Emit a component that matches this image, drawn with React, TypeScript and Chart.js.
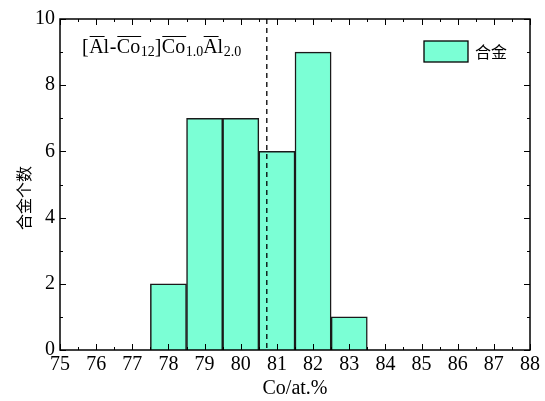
import React, { useEffect, useRef } from "react";
import { Chart, registerables } from "chart.js";

Chart.register(...registerables);

const binCenters = [78, 79, 80, 81, 82, 83];
const counts = [2, 7, 7, 6, 9, 1];
const dashedX = 80.72;
const seriesLabel = "合金";
const xTitle = "Co/at.%";
const yTitle = "合金个数";
const xMin = 75, xMax = 88, yMin = 0, yMax = 10;

const SERIF = "'Liberation Serif', 'DejaVu Serif', serif";
const CJK = "'Noto Sans CJK SC', sans-serif";

const decorPlugin = {
  id: "decor",
  afterDatasetsDraw(chart: any) {
    const { ctx, chartArea: a, scales } = chart;
    const xs = scales.x, ys = scales.y;
    ctx.save();
    // dashed vertical line
    const dx = xs.getPixelForValue(dashedX);
    ctx.strokeStyle = "#000";
    ctx.lineWidth = 1.3;
    ctx.setLineDash([5, 4]);
    ctx.beginPath();
    ctx.moveTo(dx, a.top);
    ctx.lineTo(dx, a.bottom);
    ctx.stroke();
    ctx.setLineDash([]);

    // ticks (inward, mirrored)
    ctx.lineWidth = 1;
    for (let v = xMin; v <= xMax; v += 0.5) {
      const px = Math.round(xs.getPixelForValue(v)) + 0.5;
      const len = Number.isInteger(v) ? 6 : 3;
      ctx.beginPath();
      ctx.moveTo(px, a.bottom);
      ctx.lineTo(px, a.bottom - len);
      ctx.moveTo(px, a.top);
      ctx.lineTo(px, a.top + len);
      ctx.stroke();
    }
    for (let v = yMin; v <= yMax; v++) {
      const py = Math.round(ys.getPixelForValue(v)) + 0.5;
      const len = v % 2 === 0 ? 6 : 3;
      ctx.beginPath();
      ctx.moveTo(a.left, py);
      ctx.lineTo(a.left + len, py);
      ctx.moveTo(a.right, py);
      ctx.lineTo(a.right - len, py);
      ctx.stroke();
    }
    // frame
    ctx.lineWidth = 1.5;
    ctx.strokeRect(a.left, a.top, a.right - a.left, a.bottom - a.top);

    // legend
    const lx = 424, ly = 41, lw = 44, lh = 21;
    ctx.fillStyle = "#7BFFD5";
    ctx.fillRect(lx, ly, lw, lh);
    ctx.lineWidth = 1.3;
    ctx.strokeRect(lx, ly, lw, lh);
    ctx.fillStyle = "#000";
    ctx.font = `16px ${CJK}`;
    ctx.textBaseline = "middle";
    ctx.textAlign = "left";
    ctx.fillText(seriesLabel, 475, 52);

    // formula annotation
    const main = `20px ${SERIF}`;
    const sub = `14px ${SERIF}`;
    const base = 53;
    let x = 82;
    ctx.textBaseline = "alphabetic";
    const put = (t: string, small: boolean, overChars: number) => {
      ctx.font = small ? sub : main;
      const w = ctx.measureText(t).width;
      ctx.fillText(t, x, small ? base + 3 : base);
      if (overChars > 0) {
        const ow = ctx.measureText(t.slice(0, overChars)).width;
        ctx.lineWidth = 1;
        ctx.beginPath();
        ctx.moveTo(x + 0.5, 36.5);
        ctx.lineTo(x + ow + 1, 36.5);
        ctx.stroke();
      }
      x += w + (small ? 0 : 0.5);
    };
    put("[", false, 0);
    put("Al", false, 1);
    put("-", false, 0);
    put("Co", false, 2);
    put("12", true, 0);
    put("]", false, 0);
    put("Co", false, 2);
    put("1.0", true, 0);
    put("Al", false, 1);
    put("2.0", true, 0);

    // axis titles
    ctx.font = `20px ${SERIF}`;
    ctx.textAlign = "center";
    ctx.textBaseline = "middle";
    ctx.fillText(xTitle, (a.left + a.right) / 2, 389);
    ctx.save();
    ctx.translate(24, 198);
    ctx.rotate(-Math.PI / 2);
    ctx.font = `16px ${CJK}`;
    ctx.fillText(yTitle, 0, 0);
    ctx.restore();
    ctx.restore();
  },
};

export default function App() {
  const ref = useRef<HTMLCanvasElement>(null);
  useEffect(() => {
    document.body.style.margin = "0";
    const chart = new Chart(ref.current!, {
      type: "bar",
      data: {
        datasets: [
          {
            label: seriesLabel,
            data: binCenters.map((c, i) => ({ x: c, y: counts[i] })),
            backgroundColor: "#7BFFD5",
            borderColor: "#1a1a1a",
            borderWidth: 1.5,
            barPercentage: 1,
            categoryPercentage: 1,
          },
        ],
      },
      plugins: [decorPlugin],
      options: {
        animation: false,
        responsive: false,
        layout: { padding: { top: 19, right: 15, left: 0, bottom: 0 } },
        plugins: { legend: { display: false }, tooltip: { enabled: false } },
        scales: {
          x: {
            type: "linear",
            min: xMin,
            max: xMax,
            offset: false,
            grid: { display: false, drawTicks: false },
            border: { display: false },
            ticks: {
              stepSize: 1,
              autoSkip: false,
              maxRotation: 0,
              color: "#000",
              padding: 3,
              font: { family: SERIF, size: 20 },
            },
            afterFit: (s: any) => {
              s.height = 51;
            },
          },
          y: {
            min: yMin,
            max: yMax,
            grid: { display: false, drawTicks: false },
            border: { display: false },
            ticks: {
              stepSize: 2,
              color: "#000",
              padding: 5,
              font: { family: SERIF, size: 20 },
            },
            afterFit: (s: any) => {
              s.width = 60;
            },
          },
        },
      },
    } as any);
    return () => chart.destroy();
  }, []);
  return <canvas ref={ref} width={545} height={401} style={{ display: "block" }} />;
}
